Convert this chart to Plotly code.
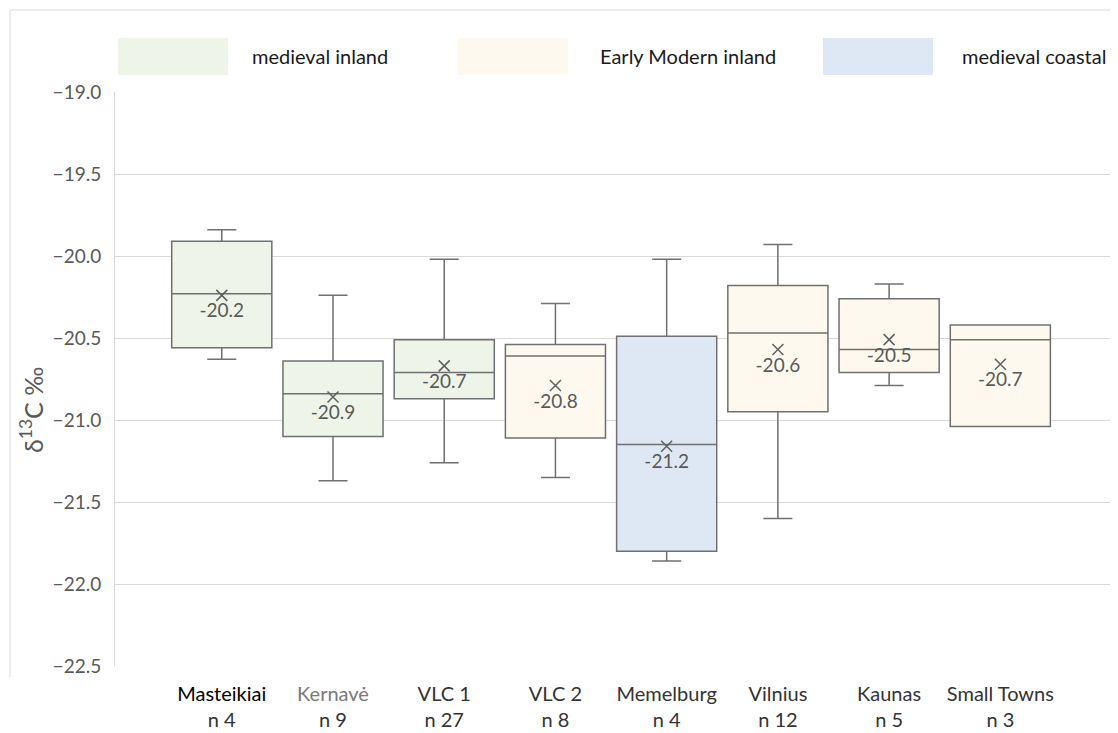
import plotly.graph_objects as go

# site summaries (d13C, permil)
sites = ["Masteikiai", "Kernavė", "VLC 1", "VLC 2", "Memelburg", "Vilnius", "Kaunas", "Small Towns"]
n_counts = [4, 9, 27, 8, 4, 12, 5, 3]
groups = ["medieval inland", "medieval inland", "medieval inland", "Early Modern inland",
          "medieval coastal", "Early Modern inland", "Early Modern inland", "Early Modern inland"]
upper = [-19.84, -20.24, -20.02, -20.29, -20.02, -19.93, -20.17, -20.42]
q3 = [-19.91, -20.64, -20.51, -20.54, -20.49, -20.18, -20.26, -20.42]
median = [-20.23, -20.84, -20.71, -20.61, -21.15, -20.47, -20.57, -20.51]
q1 = [-20.56, -21.10, -20.87, -21.11, -21.80, -20.95, -20.71, -21.04]
lower = [-20.63, -21.37, -21.26, -21.35, -21.86, -21.60, -20.79, -21.04]
mean = [-20.24, -20.86, -20.67, -20.79, -21.16, -20.57, -20.51, -20.66]

legend_names = ["medieval inland", "Early Modern inland", "medieval coastal"]
fills = {"medieval inland": "#EEF5E8", "Early Modern inland": "#FEF9EE", "medieval coastal": "#DEE8F4"}

# page body has an 8px margin, so the figure is drawn 8px smaller / shifted
OFF = 8
W, H = 1118 - OFF, 733 - OFF
L, R, T, B = 115 - OFF, 1116 - OFF, 92 - OFF, 666 - OFF


def pxx(p):
    return (p - OFF - L) / (R - L)


def pxy(p):
    return (B - (p - OFF)) / (B - T)


fig = go.Figure()

for g in legend_names:
    idx = [i for i, gg in enumerate(groups) if gg == g]
    fig.add_trace(go.Box(
        x=idx,
        q1=[q1[i] for i in idx], median=[median[i] for i in idx], q3=[q3[i] for i in idx],
        lowerfence=[lower[i] for i in idx], upperfence=[upper[i] for i in idx],
        width=0.9, whiskerwidth=0.29,
        fillcolor=fills[g], line=dict(color="#707070", width=1.5),
        name=g, showlegend=False, hoverinfo="skip",
    ))

fig.add_trace(go.Scatter(
    x=list(range(len(sites))), y=mean, mode="markers+text",
    marker=dict(symbol="x-thin", size=11, line=dict(color="#606060", width=1.5)),
    text=[f"{m:.1f}" for m in mean], textposition="bottom center",
    textfont=dict(size=19, color="#595959", family="Lato"),
    showlegend=False, hoverinfo="skip",
))

ticktext = []
for i, (s, n) in enumerate(zip(sites, n_counts)):
    col = "#000000" if i == 0 else ("#7a7a7a" if i == 1 else "#333333")
    ticktext.append(f"<span style='color:{col}'>{s}</span><br>n {n}")

# legend drawn by hand: big colour swatches with labels
shapes = []
annotations = []
sw_x = [118, 458, 823]
tx_x = [250, 598, 960]
for g, sx, tx in zip(legend_names, sw_x, tx_x):
    shapes.append(dict(type="rect", xref="paper", yref="paper",
                       x0=pxx(sx), x1=pxx(sx + 110), y0=pxy(75), y1=pxy(38),
                       fillcolor=fills[g], line=dict(width=0), layer="below"))
    annotations.append(dict(xref="paper", yref="paper", x=pxx(tx), y=pxy(56),
                            text=g, showarrow=False, xanchor="left", yanchor="middle",
                            font=dict(size=20, color="#1a1a1a", family="Lato")))

# faint outer frame
shapes.append(dict(type="line", xref="paper", yref="paper", x0=pxx(10), x1=pxx(1118),
                   y0=pxy(10), y1=pxy(10), line=dict(color="#d9d9d9", width=1)))
shapes.append(dict(type="line", xref="paper", yref="paper", x0=pxx(10), x1=pxx(10),
                   y0=pxy(10), y1=pxy(677), line=dict(color="#d9d9d9", width=1)))

annotations.append(dict(xref="paper", yref="paper", x=pxx(31), y=pxy(410),
                        text="δ<sup>13</sup>C ‰", showarrow=False, textangle=-90,
                        xanchor="center", yanchor="middle",
                        font=dict(size=25, color="#595959", family="Lato")))

fig.update_layout(
    width=W, height=H,
    margin=dict(l=L, r=W - R, t=T, b=H - B, pad=0),
    paper_bgcolor="white", plot_bgcolor="white",
    font=dict(family="Lato", color="#595959"),
    shapes=shapes, annotations=annotations,
    boxmode="overlay",
)
fig.update_xaxes(
    range=[-0.96, 8.04], tickmode="array", tickvals=list(range(len(sites))), ticktext=ticktext,
    showgrid=False, zeroline=False, showline=False, ticks="",
    tickfont=dict(size=20, color="#333333", family="Lato"), ticklabelstandoff=14,
)
fig.update_yaxes(
    range=[-22.5, -19.0], dtick=0.5, tick0=-22.5, tickformat=".1f",
    showgrid=True, gridcolor="#d9d9d9", gridwidth=1, zeroline=False,
    showline=True, linecolor="#d9d9d9", linewidth=1, ticks="",
    tickfont=dict(size=19, color="#595959", family="Lato"), ticklabelstandoff=9,
    automargin=False,
)

fig.write_html("out.html")
